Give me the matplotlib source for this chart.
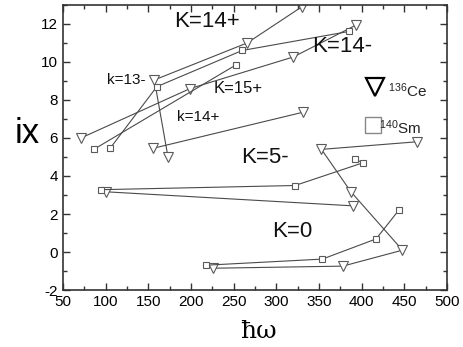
import matplotlib
matplotlib.use("Agg")
import matplotlib.pyplot as plt
from matplotlib.ticker import MultipleLocator

plt.rcParams["mathtext.fontset"] = "custom"
plt.rcParams["mathtext.rm"] = "Liberation Sans"
plt.rcParams["mathtext.it"] = "Liberation Sans"
plt.rcParams["axes.unicode_minus"] = False

# ---- data ----
# 136Ce (triangles)
ce_a_x = [173, 157, 266, 330]
ce_a_y = [5.0, 9.05, 11.0, 12.9]
ce_b_x = [71, 199, 320, 394]
ce_b_y = [6.0, 8.6, 10.26, 11.95]
ce_c_x = [155, 331]
ce_c_y = [5.45, 7.35]
ce_d_x = [100, 390]
ce_d_y = [3.17, 2.43]
ce_e_x = [226, 378, 448, 387.5, 353, 465]
ce_e_y = [-0.85, -0.74, 0.1, 3.17, 5.4, 5.8]

# 140Sm (squares)
sm_a_x = [105, 160, 260, 385]
sm_a_y = [5.45, 8.7, 10.6, 11.6]
sm_b_x = [86, 253]
sm_b_y = [5.4, 9.85]
sm_c_x = [94, 322, 402, 392]
sm_c_y = [3.28, 3.5, 4.7, 4.87]
sm_d_x = [218, 354, 417, 444]
sm_d_y = [-0.69, -0.37, 0.69, 2.22]

band_labels = ["K=14+", "k=13-", "K=15+", "k=14+", "K=14-", "K=5-", "K=0"]
band_x = [219, 124, 255, 208, 377, 287, 319]
band_y = [12.1, 9.05, 8.6, 7.1, 10.8, 4.97, 1.1]
band_size = [16, 11, 12, 11, 16, 16, 16]

fig = plt.figure(figsize=(4.64, 3.47), dpi=100)
ax = fig.add_axes([0.136, 0.164, 0.827, 0.822])

lc = "#4a4a4a"
mc = "#5a5a5a"
for xs, ys in [(ce_a_x, ce_a_y), (ce_b_x, ce_b_y), (ce_c_x, ce_c_y),
               (ce_d_x, ce_d_y), (ce_e_x, ce_e_y)]:
    ax.plot(xs, ys, color=lc, lw=0.8, marker="v", ms=7, mfc="white",
            mec=mc, mew=0.8)
for xs, ys in [(sm_a_x, sm_a_y), (sm_b_x, sm_b_y), (sm_c_x, sm_c_y),
               (sm_d_x, sm_d_y)]:
    ax.plot(xs, ys, color=lc, lw=0.8, marker="s", ms=5, mfc="white",
            mec=mc, mew=0.8)

for t, x, y, s in zip(band_labels, band_x, band_y, band_size):
    ax.text(x, y, t, fontsize=s, ha="center", va="center", color="#111111",
            family="Liberation Sans")

# legend-like annotations
ax.plot([416], [8.7], marker="v", ms=13, mfc="white", mec="black", mew=1.6,
        ls="none")
ax.text(431, 8.5, r"$^{136}$Ce", fontsize=11, ha="left", va="center",
        family="Liberation Sans", color="#222222")
ax.plot([413], [6.67], marker="s", ms=12, mfc="white", mec="#888888",
        mew=1.0, ls="none")
ax.text(421, 6.55, r"$^{140}$Sm", fontsize=11, ha="left", va="center",
        family="Liberation Sans", color="#222222")

ax.set_xlim(50, 500)
ax.set_ylim(-2, 13)
ax.xaxis.set_major_locator(MultipleLocator(50))
ax.xaxis.set_minor_locator(MultipleLocator(25))
ax.yaxis.set_major_locator(MultipleLocator(2))
ax.yaxis.set_minor_locator(MultipleLocator(1))
ax.tick_params(which="both", direction="in", top=True, right=True,
               labeltop=False, labelright=False, labelsize=11, width=1.0,
               color="#333333")
ax.tick_params(which="major", length=5)
ax.tick_params(which="minor", length=3)
for lab in ax.get_xticklabels() + ax.get_yticklabels():
    lab.set_family("Liberation Sans")
for sp in ax.spines.values():
    sp.set_linewidth(1.2)
    sp.set_color("#333333")

fig.text(27 / 464, 1 - 133 / 347, "ix", fontsize=25, ha="center",
         va="center", family="Liberation Sans")
fig.text(258 / 464, 1 - 331 / 347, "ħω", fontsize=18, ha="center",
         va="center", family="DejaVu Serif")

fig.savefig("out.png", dpi=100)
